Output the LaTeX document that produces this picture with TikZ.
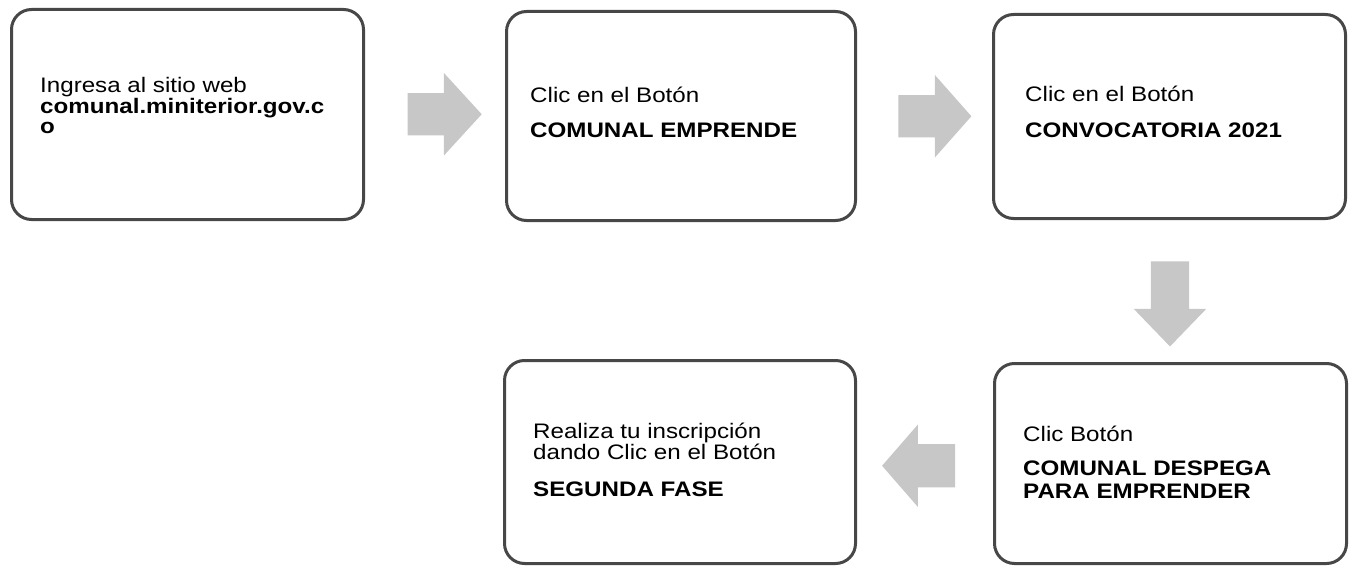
\documentclass[tikz,border=0pt]{standalone}
\usepackage{fontspec}
\setmainfont[FakeStretch=1.15]{Liberation Sans}
\usetikzlibrary{shapes.arrows,calc}
\begin{document}
\begin{tikzpicture}[x=1pt,y=-1pt,
  box/.style={draw=black!72, line width=3pt, rounded corners=20pt, fill=white, inner sep=0pt},
  txt/.style={anchor=base west, align=left, inner sep=0pt, font=\fontsize{21}{19.5}\selectfont},
  blk/.style n args={4}{shape=single arrow, fill=black!22, draw=none, inner xsep=0pt,
    minimum height=#1, inner ysep=#2, single arrow head extend=#3, single arrow tip angle=#4}]
\useasboundingbox (0,0) rectangle (1356,567);
% boxes
\node[box, minimum width=352pt, minimum height=210pt] (b1) at (187.5,114.5) {};
\node[box, minimum width=349pt, minimum height=209pt] (b2) at (681,116) {};
\node[box, minimum width=352pt, minimum height=204pt] (b3) at (1169.5,116.5) {};
\node[box, minimum width=352pt, minimum height=200pt] (b4) at (1170.5,463.5) {};
\node[box, minimum width=351pt, minimum height=203pt] (b5) at (680,462) {};
% texts (anchored at the baseline of the last line)
\node[txt] (t1) at (40,133) {Ingresa al sitio web\\ \textbf{comunal.miniterior.gov.c}\\ \textbf{o}};
\node[txt] (t2) at (530,137) {Clic en el Botón\\[15pt] \textbf{COMUNAL EMPRENDE}};
\node[txt] (t3) at (1025,138) {Clic en el Botón\\[17pt] \textbf{CONVOCATORIA 2021}};
\node[txt] (t4) at (1023,498) {Clic Botón\\[15pt] \textbf{COMUNAL DESPEGA}\\[3pt] \textbf{PARA EMPRENDER}};
\node[txt] (t5) at (533,496) {Realiza tu inscripción\\ dando Clic en el Botón\\[17pt] \textbf{SEGUNDA FASE}};
% block arrows
\node[blk={74pt}{21pt}{20pt}{95}] (a1) at ($(b1.east)!0.5!(b2.west)+(0,-1)$) {};
\node[blk={73pt}{21pt}{20pt}{97}] (a2) at ($(b2.east)!0.5!(b3.west)+(1,0)$) {};
\node[blk={85pt}{19pt}{17pt}{88}, rotate=-90] (a3) at ($(b3.south)!0.5!(b4.north)+(0,3)$) {};
\node[blk={73pt}{21.5pt}{19.5pt}{98}, rotate=180] (a4) at ($(b5.east)!0.5!(b4.west)+(3,3)$) {};
\end{tikzpicture}
\end{document}
